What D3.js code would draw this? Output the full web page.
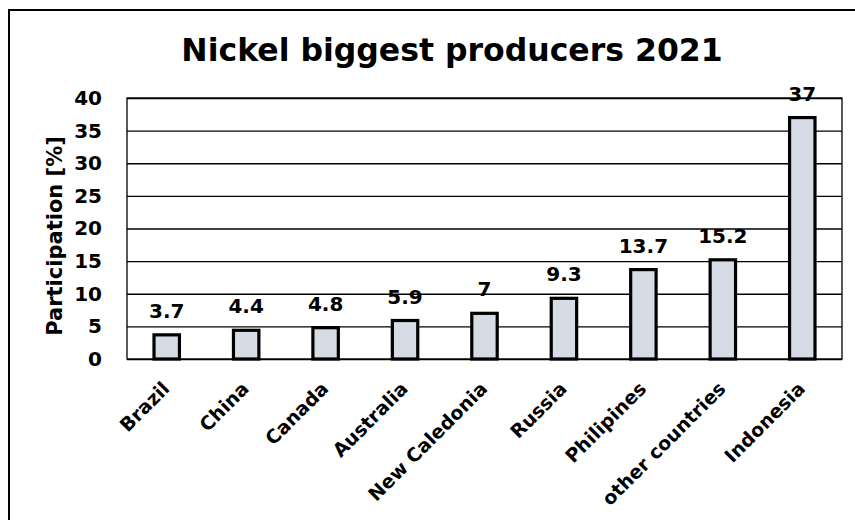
<!DOCTYPE html>
<html><head><meta charset="utf-8">
<script src="https://cdn.jsdelivr.net/npm/d3@7"></script>
<style>body{margin:0;background:#fff}svg{display:block}text{font-family:"DejaVu Sans",sans-serif;font-weight:bold;fill:#000}</style>
</head><body><svg id="c" width="855" height="520"></svg>
<script>
const categories = ["Brazil","China","Canada","Australia","New Caledonia","Russia","Philipines","other countries","Indonesia"];
const values = [3.7,4.4,4.8,5.9,7,9.3,13.7,15.2,37];
const yTicks = [0,5,10,15,20,25,30,35,40];
const title = "Nickel biggest producers 2021";
const yTitle = "Participation [%]";

const FONT = '"DejaVu Sans",sans-serif';
const svg = d3.select("#c");
const L=127,R=842,T=98,B=359;
svg.append("rect").attr("x",9).attr("y",10).attr("width",900).attr("height",600)
  .attr("fill","#fff").attr("stroke","#000").attr("stroke-width",2);

const x = d3.scaleBand().domain(categories).range([L,R]).paddingInner(0.68).paddingOuter(0.34);
const y = d3.scaleLinear().domain([0,40]).range([B,T]);

// plot frame
svg.append("rect").attr("x",L).attr("y",T).attr("width",R-L).attr("height",B-T)
  .attr("fill","none").attr("stroke","#000").attr("stroke-width",1.3);

// grid + y labels
const yAxis = d3.axisLeft(y).tickValues(yTicks).tickSize(-(R-L)).tickPadding(25).tickFormat(d3.format("d"));
const ga = svg.append("g").attr("transform",`translate(${L},0)`).call(yAxis);
ga.select(".domain").remove();
ga.selectAll("line").attr("stroke","#000").attr("stroke-width",1.3);
ga.selectAll("text").attr("font-size",20).style("font-family",FONT).style("font-weight","bold");

// bars
svg.append("g").selectAll("rect").data(values).join("rect")
  .attr("x",(d,i)=>x(categories[i])).attr("width",x.bandwidth())
  .attr("y",d=>y(d)).attr("height",d=>B-y(d))
  .attr("fill","#d6dce5").attr("stroke","#000").attr("stroke-width",3.2);

// value labels
svg.append("g").selectAll("text").data(values).join("text")
  .attr("x",(d,i)=>x(categories[i])+x.bandwidth()/2).attr("y",d=>y(d)-17)
  .attr("text-anchor","middle").attr("font-size",20).text(d=>d);

// x labels
const xa = d3.axisBottom(x).tickSize(0).tickPadding(0);
const gx = svg.append("g").attr("transform",`translate(0,${B})`).call(xa);
gx.select(".domain").remove();
gx.selectAll("text").attr("font-size",19)
  .style("font-family",FONT).style("font-weight","bold")
  .attr("text-anchor","end").attr("dy",0).attr("y",0)
  .attr("transform","translate(4,31) rotate(-45)");

// title
svg.append("text").attr("x",452).attr("y",61).attr("text-anchor","middle").attr("font-size",31.5).text(title);
// y title
svg.append("text").attr("transform","translate(62,236) rotate(-90)").attr("text-anchor","middle").attr("font-size",21).text(yTitle);
</script></body></html>
